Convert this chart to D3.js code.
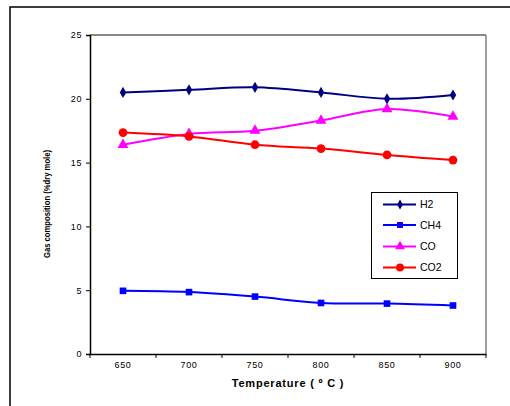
<!DOCTYPE html>
<html>
<head>
<meta charset="utf-8">
<script src="https://cdn.jsdelivr.net/npm/d3@7/dist/d3.min.js"></script>
<style>
    body { margin: 0; background: #fff; }
    text { font-family: "Liberation Sans", Arial, sans-serif; }
</style>
</head>
<body>
<div id="chart"></div>
<script>
// temperature categories
var temps = ["650", "700", "750", "800", "850", "900"];
var yTicks = [0, 5, 10, 15, 20, 25];

var h2 = [20.5, 20.7, 20.9, 20.5, 20.0, 20.3];
var ch4 = [4.95, 4.85, 4.5, 4.0, 3.95, 3.8];
var co = [16.4, 17.25, 17.5, 18.3, 19.2, 18.6];
var co2 = [17.35, 17.05, 16.4, 16.1, 15.6, 15.2];

var seriesNames = ["H2", "CH4", "CO", "CO2"];
var seriesColors = ["#000080", "#0000ff", "#ff00ff", "#ff0000"];
var seriesShapes = [d3.symbolDiamond, d3.symbolSquare, d3.symbolTriangle, d3.symbolCircle];

var width = 510, height = 406;
var plot = { left: 90, top: 35, right: 486, bottom: 354 };

var svg = d3.select("#chart").append("svg")
    .attr("width", width)
    .attr("height", height);

// outer frame, cut off at right/bottom like the source image
svg.append("rect")
    .attr("x", 10).attr("y", 7)
    .attr("width", 520).attr("height", 420)
    .attr("fill", "none")
    .attr("stroke", "#000")
    .attr("stroke-width", 1.5);

var x = d3.scaleBand()
    .domain(temps)
    .range([plot.left, plot.right]);

var y = d3.scaleLinear()
    .domain([0, 25])
    .range([plot.bottom, plot.top]);

// plot area border (top dark, right grey)
svg.append("line")
    .attr("x1", plot.left).attr("x2", plot.right)
    .attr("y1", plot.top).attr("y2", plot.top)
    .attr("stroke", "#111").attr("stroke-width", 1);
svg.append("line")
    .attr("x1", plot.right).attr("x2", plot.right)
    .attr("y1", plot.top).attr("y2", plot.bottom)
    .attr("stroke", "#808080").attr("stroke-width", 1.5);

// y axis
var yAxis = svg.append("g")
    .attr("transform", "translate(" + plot.left + ",0)")
    .call(d3.axisLeft(y).tickValues(yTicks).tickSize(4).tickPadding(4));

// x axis, ticks on the category boundaries
var xAxis = svg.append("g")
    .attr("transform", "translate(0," + plot.bottom + ")")
    .call(d3.axisBottom(x).tickSize(0).tickPadding(8));

var bounds = d3.range(temps.length + 1).map(function (i) {
    return plot.left + i * x.step();
});
xAxis.selectAll("line.bound")
    .data(bounds)
    .enter().append("line")
    .attr("class", "bound")
    .attr("x1", function (d) { return d; })
    .attr("x2", function (d) { return d; })
    .attr("y1", 0).attr("y2", 4)
    .attr("stroke", "#000");

[yAxis, xAxis].forEach(function (ax) {
    ax.select(".domain").attr("stroke", "#000").attr("stroke-width", 1.5);
    ax.selectAll(".tick line").attr("stroke", "#000");
    ax.selectAll("text")
        .attr("fill", "#000")
        .style("font-size", "9px")
        .style("letter-spacing", "0.6px")
        .style("font-family", "'Liberation Sans', Arial, sans-serif");
});

// axis titles
svg.append("text")
    .attr("x", 288).attr("y", 387)
    .attr("text-anchor", "middle")
    .style("font-size", "11px")
    .style("font-weight", "bold")
    .style("letter-spacing", "0.8px")
    .text("Temperature ( º C )");

svg.append("text")
    .attr("transform", "translate(50,204) rotate(-90)")
    .attr("text-anchor", "middle")
    .attr("textLength", 108)
    .attr("lengthAdjust", "spacingAndGlyphs")
    .style("font-size", "9.5px")
    .style("font-weight", "bold")
    .text("Gas composition (%dry mole)");

// series
var allSeries = [h2, ch4, co, co2];
var line = d3.line()
    .x(function (d, i) { return x(temps[i]) + x.bandwidth() / 2; })
    .y(function (d) { return y(d); })
    .curve(d3.curveCatmullRom.alpha(0));

var markerSizes = [36, 44, 52, 60];

allSeries.forEach(function (values, k) {
    var g = svg.append("g");
    g.append("path")
        .datum(values)
        .attr("d", line)
        .attr("fill", "none")
        .attr("stroke", seriesColors[k])
        .attr("stroke-width", 2);
    g.selectAll("path.pt")
        .data(values)
        .enter().append("path")
        .attr("class", "pt")
        .attr("transform", function (d, i) {
            return "translate(" + (x(temps[i]) + x.bandwidth() / 2) + "," + y(d) + ")";
        })
        .attr("d", d3.symbol().type(seriesShapes[k]).size(markerSizes[k]))
        .attr("fill", seriesColors[k]);
});

// legend
var legend = svg.append("g");
legend.append("rect")
    .attr("x", 371.5).attr("y", 192.5)
    .attr("width", 86).attr("height", 86)
    .attr("fill", "#fff")
    .attr("stroke", "#000")
    .attr("stroke-width", 1);

var rowY = [204.5, 225, 246.5, 267.5];
seriesNames.forEach(function (name, k) {
    var row = legend.append("g").attr("transform", "translate(0," + rowY[k] + ")");
    row.append("line")
        .attr("x1", 383).attr("x2", 416)
        .attr("stroke", seriesColors[k])
        .attr("stroke-width", 2);
    row.append("path")
        .attr("transform", "translate(400,0)")
        .attr("d", d3.symbol().type(seriesShapes[k]).size(markerSizes[k] * 0.8))
        .attr("fill", seriesColors[k]);
    row.append("text")
        .attr("x", 420).attr("y", 0)
        .attr("dy", "0.35em")
        .style("font-size", "10.5px")
        .text(name);
});
</script>
</body>
</html>
